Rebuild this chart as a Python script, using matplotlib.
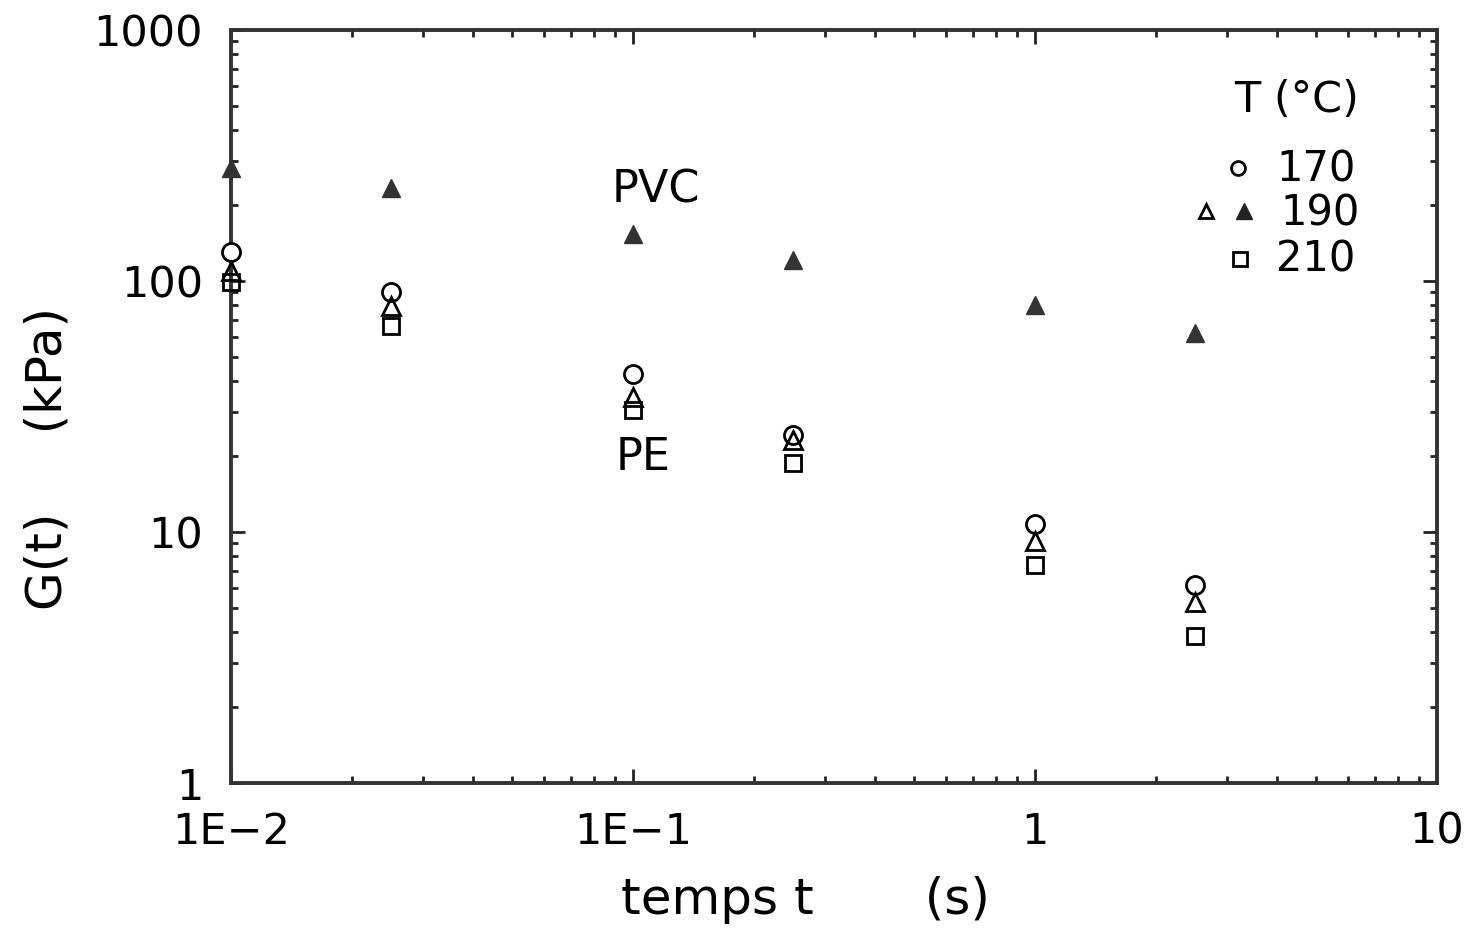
import matplotlib
matplotlib.use("Agg")
import matplotlib.pyplot as plt
from matplotlib.ticker import LogLocator, NullFormatter

plt.rcParams['font.family'] = ['DejaVu Sans']

# Data
t = [0.01, 0.025, 0.1, 0.25, 1.0, 2.5]
pvc_190 = [282, 235, 154, 121, 80, 62]
pe_170 = [130, 90, 42.6, 24.3, 10.8, 6.15]
pe_190 = [110, 79.5, 34.5, 23.3, 9.2, 5.26]
pe_210 = [99, 66, 30.6, 18.8, 7.4, 3.85]

xticks = [0.01, 0.1, 1, 10]
xticklabels = ["1E\u22122", "1E\u22121", "1", "10"]
yticks = [1, 10, 100, 1000]
yticklabels = ["1", "10", "100", "1000"]

fig = plt.figure(figsize=(14.71, 9.33), dpi=100)
ax = fig.add_axes([231/1471, 1-783/933, (1437-231)/1471, (783-30)/933])
ax.set_xscale('log')
ax.set_yscale('log')
ax.set_xlim(0.01, 10)
ax.set_ylim(1, 1000)

ms = 13
ax.plot(t, pvc_190, linestyle='none', marker='^', markersize=ms, color='#333333', clip_on=False, zorder=3)
ax.plot(t, pe_170, linestyle='none', marker='o', markersize=ms, mfc='white', mec='black', mew=2, clip_on=False, zorder=3)
ax.plot(t, pe_190, linestyle='none', marker='^', markersize=ms, mfc='none', mec='black', mew=2, clip_on=False, zorder=3)
ax.plot(t, pe_210, linestyle='none', marker='s', markersize=ms-1, mfc='none', mec='black', mew=2, clip_on=False, zorder=3)

ax.set_xticks(xticks)
ax.set_xticklabels(xticklabels)
ax.set_yticks(yticks)
ax.set_yticklabels(yticklabels)
ax.xaxis.set_minor_locator(LogLocator(base=10, subs=range(2, 10)))
ax.yaxis.set_minor_locator(LogLocator(base=10, subs=range(2, 10)))
ax.xaxis.set_minor_formatter(NullFormatter())
ax.yaxis.set_minor_formatter(NullFormatter())
ax.tick_params(which='both', direction='in', top=True, right=True, width=2, colors='#222222', labelcolor='black')
ax.tick_params(which='major', length=10, labelsize=31, pad=20)
ax.tick_params(which='minor', length=5)
for s in ax.spines.values():
    s.set_linewidth(2.8)
    s.set_color('#333333')

def fx(px):
    return (px-231)/1206
def fy(py):
    return (783-py)/753

ax.text(fx(656), fy(190), "PVC", fontsize=32, ha='center', va='center', transform=ax.transAxes)
ax.text(fx(643), fy(457), "PE", fontsize=32, ha='center', va='center', transform=ax.transAxes)

# legend-like annotation
ax.text(fx(1297), fy(100), "T (\u00b0C)", fontsize=31, ha='center', va='center', transform=ax.transAxes)
ax.text(fx(1276), fy(170), "170", fontsize=30, ha='left', va='center', transform=ax.transAxes)
ax.text(fx(1280), fy(213), "190", fontsize=30, ha='left', va='center', transform=ax.transAxes)
ax.text(fx(1276), fy(260), "210", fontsize=30, ha='left', va='center', transform=ax.transAxes)
ax.plot([fx(1238)], [fy(168)], marker='o', markersize=10, mfc='white', mec='black', mew=2, transform=ax.transAxes, linestyle='none')
ax.plot([fx(1206)], [fy(211)], marker='^', markersize=10, mfc='none', mec='black', mew=2, transform=ax.transAxes, linestyle='none')
ax.plot([fx(1244)], [fy(211)], marker='^', markersize=11, color='#222222', transform=ax.transAxes, linestyle='none')
ax.plot([fx(1240)], [fy(259)], marker='s', markersize=10, mfc='none', mec='black', mew=2, transform=ax.transAxes, linestyle='none')

fig.text(805/1471, 1-900/933, "temps t       (s)", fontsize=36, ha='center', va='center')
fig.text(48/1471, 1-458/933, "G(t)     (kPa)", fontsize=36, ha='center', va='center', rotation=90)

fig.savefig("out.png", dpi=100)
